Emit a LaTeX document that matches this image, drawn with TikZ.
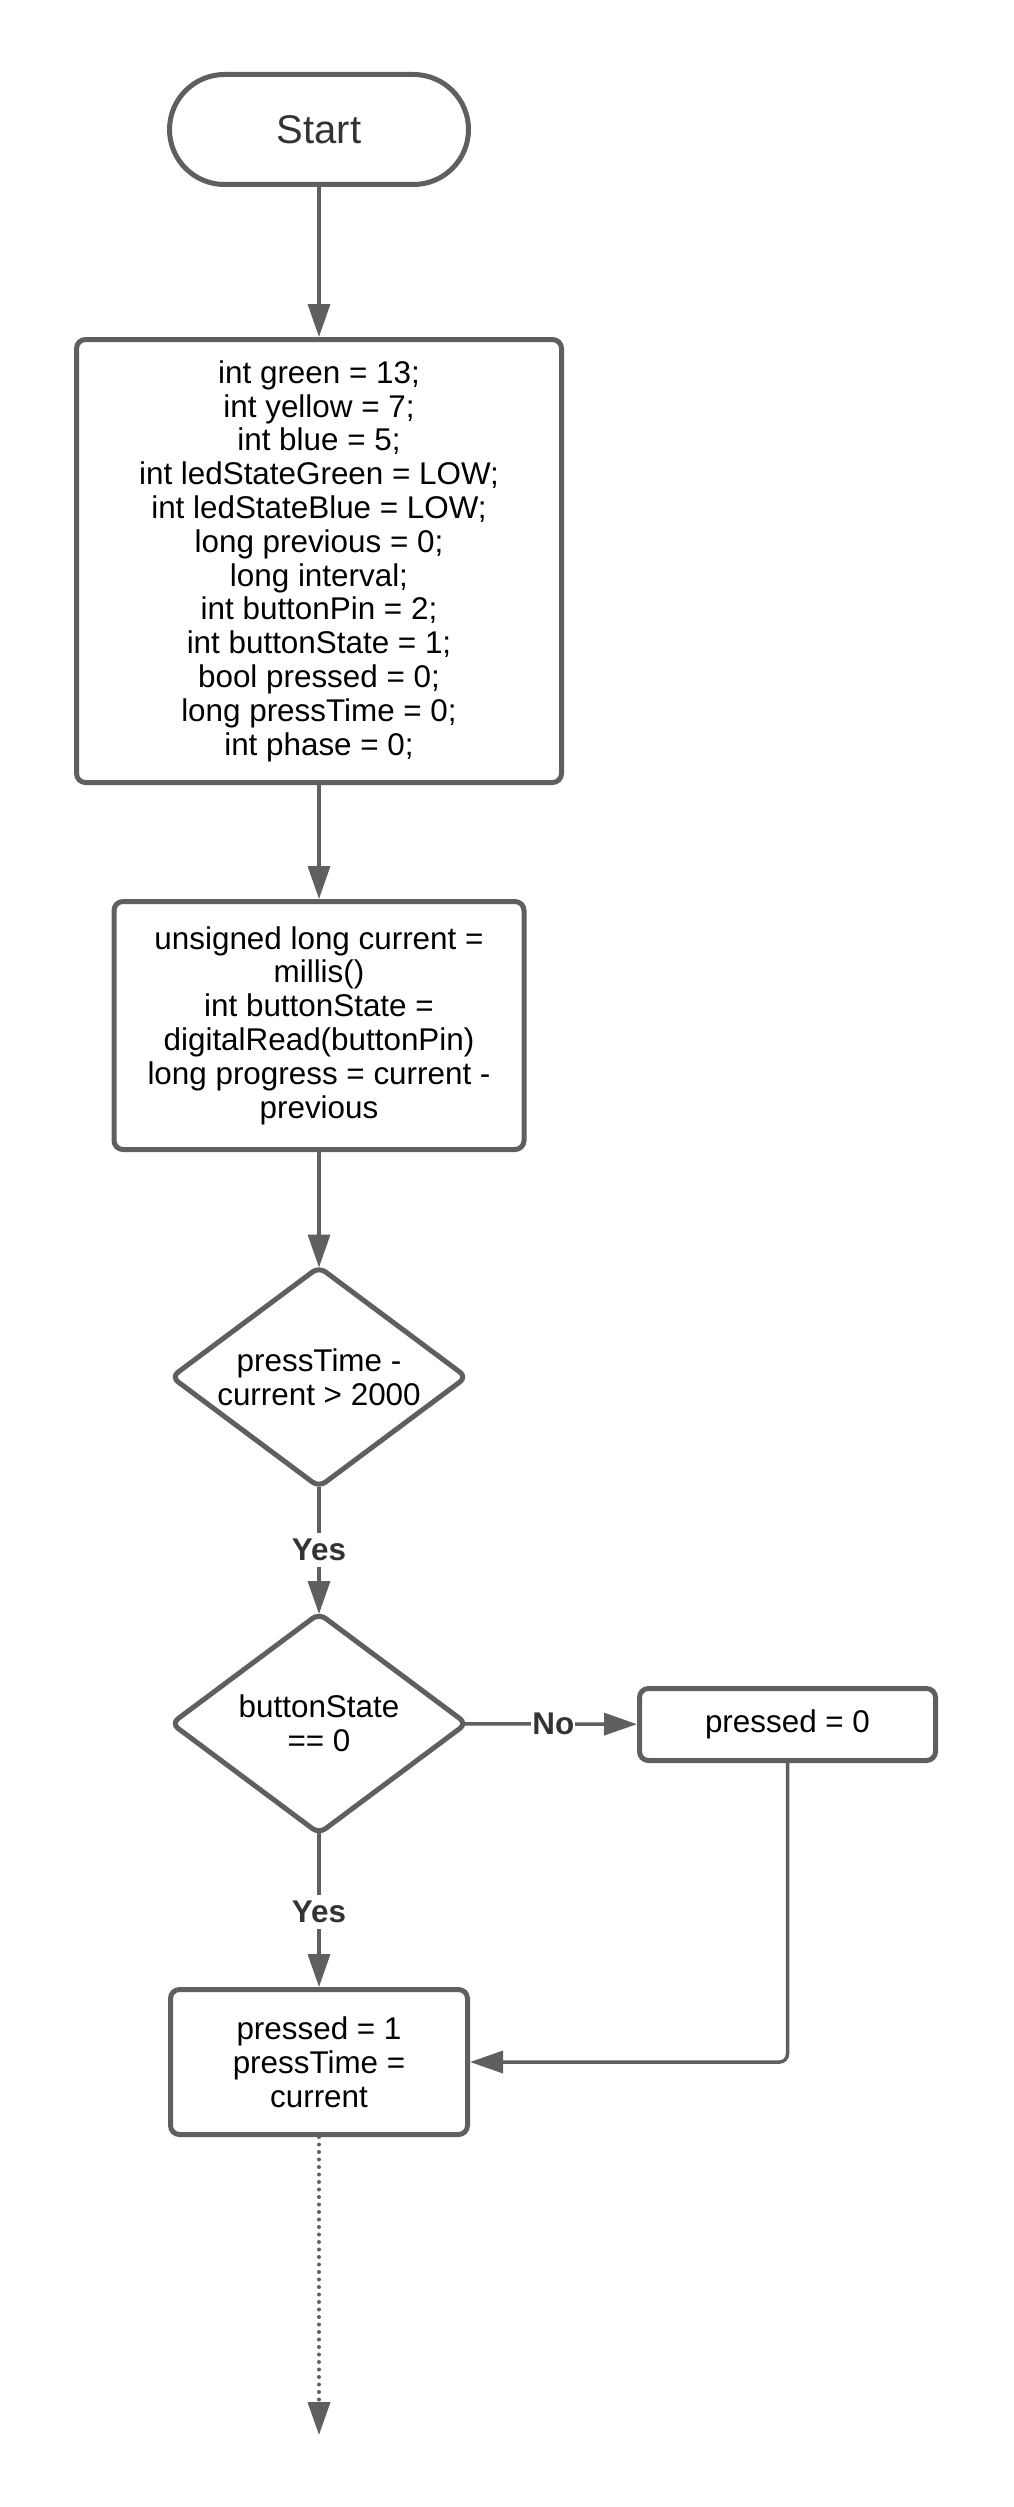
\documentclass[tikz,border=0pt]{standalone}
\usepackage{fontspec}
\setmainfont{Liberation Sans}
\usetikzlibrary{arrows.meta,shapes.geometric}
\definecolor{edgegray}{RGB}{95,95,95}
\definecolor{labelgray}{RGB}{51,51,51}

\begin{document}
\begin{tikzpicture}[x=1pt,y=-1pt,>={Triangle[length=33pt,width=22pt]},
  font=\fontsize{31.4}{33.8}\selectfont,
  box/.style={draw=edgegray,line width=5pt,rounded corners=9pt,align=center,inner sep=0pt,fill=white},
  decision/.style={diamond,draw=edgegray,line width=5pt,rounded corners=8pt,align=center,inner sep=0pt,aspect=1.33,minimum width=297pt,minimum height=222pt},
  flow/.style={draw=edgegray,line width=3.5pt,->},
  answer/.style={fill=white,text=labelgray,font=\fontsize{31.4}{33.8}\selectfont\bfseries,inner xsep=1pt,inner ysep=6pt}]
\useasboundingbox (0,0) rectangle (1013,2507);
\node[box,rounded corners=55pt,minimum width=299pt,minimum height=110pt,text=labelgray,font=\fontsize{40}{44}\selectfont] (start) at (319,129.5) {Start};
\node[box,minimum width=485pt,minimum height=443pt] (init) at (319,561) {int green = 13;\\int yellow = 7;\\int blue = 5;\\int ledStateGreen = LOW;\\int ledStateBlue = LOW;\\long previous = 0;\\long interval;\\int buttonPin = 2;\\int buttonState = 1;\\bool pressed = 0;\\long pressTime = 0;\\int phase = 0;};
\node[box,minimum width=410pt,minimum height=248pt] (read) at (319,1025.5) {unsigned long current =\\millis()\\int buttonState =\\digitalRead(buttonPin)\\long progress = current -\\previous};
\node[decision] (held) at (319,1377) {pressTime -\\current > 2000};
\node[decision] (state) at (319,1723.5) {buttonState\\== 0};
\node[box,minimum width=296pt,minimum height=72pt] (release) at (787.5,1724.5) {pressed = 0};
\node[box,minimum width=297pt,minimum height=145pt] (press) at (319,2062) {pressed = 1\\pressTime =\\current};
\coordinate (next) at (319,2435);
\draw[flow] (start) -- (init);
\draw[flow] (init) -- (read);
\draw[flow,shorten >=-4pt] (read) -- (held);
\draw[flow,shorten <=-4pt,shorten >=-4pt] (held) -- node[answer] {Yes} (state);
\draw[flow,shorten <=-5pt] (state) -- node[answer] {No} (release);
\draw[flow,shorten <=-4pt] (state) -- node[answer] {Yes} (press);
\draw[flow,rounded corners=8pt] (release.south) |- (press.east);
\draw[flow,line width=4pt,line cap=round,dash pattern=on 0pt off 7.5pt] (press) -- (next);
\end{tikzpicture}
\end{document}
